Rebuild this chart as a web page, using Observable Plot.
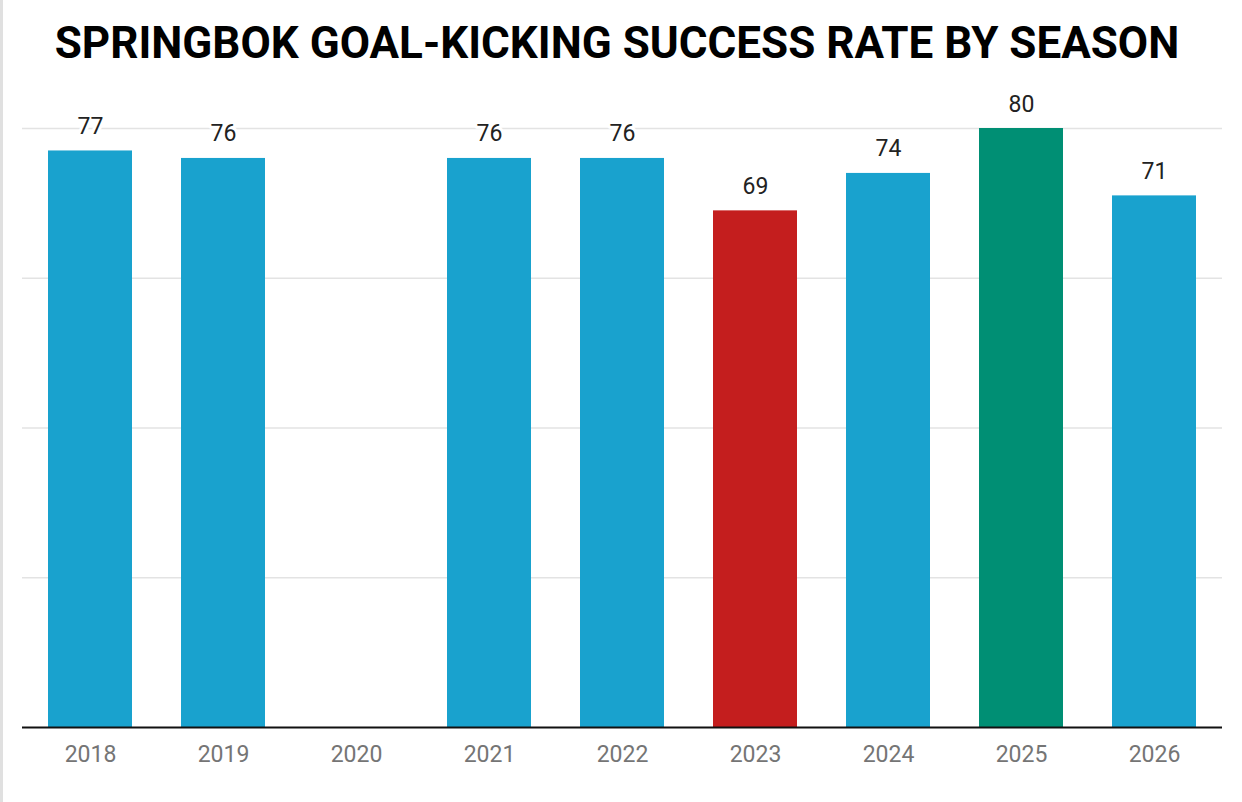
<!DOCTYPE html>
<html>
<head>
<meta charset="utf-8">
<script src="https://cdn.jsdelivr.net/npm/d3@7"></script>
<script src="https://cdn.jsdelivr.net/npm/@observablehq/plot@0.6"></script>
<style>
html, body { margin: 0; padding: 0; background: #fff; }
body { font-family: Roboto, sans-serif; }
#edge { position: fixed; left: 0; top: 0; width: 3px; height: 100%; background: #e0e0e0; z-index: 10; }
#title { height: 80px; box-sizing: border-box; padding-top: 18px; text-align: center; font: 700 44px Roboto, sans-serif; color: #000; letter-spacing: 0px; line-height: 50px; padding-right: 8px; }
#chart svg { display: block; }
</style>
</head>
<body>
<div id="edge"></div>
<div id="title">SPRINGBOK GOAL-KICKING SUCCESS RATE BY SEASON</div>
<div id="chart"></div>
<script>
const seasons = ["2018", "2019", "2020", "2021", "2022", "2023", "2024", "2025", "2026"];
const rates = [77, 76, null, 76, 76, 69, 74, 80, 71];
const barColors = ["#19a2ce", "#19a2ce", "#19a2ce", "#19a2ce", "#19a2ce", "#c41e1e", "#19a2ce", "#008f74", "#19a2ce"];
const gridValues = [20, 40, 60, 80];

const data = seasons.map((s, i) => ({season: s, rate: rates[i], color: barColors[i]}));
const withValues = data.filter(d => d.rate != null);

const chart = Plot.plot({
  width: 1242,
  height: 722,
  marginTop: 48,
  marginBottom: 75,
  marginLeft: 22,
  marginRight: 20,
  style: {fontFamily: "Roboto, sans-serif", background: "#fff"},
  x: {domain: seasons, paddingInner: 0.369, paddingOuter: 0.195, label: null},
  y: {domain: [0, 80], axis: null},
  marks: [
    Plot.ruleY(gridValues, {stroke: "#e3e3e3", strokeWidth: 1.5}),
    Plot.barY(withValues, {x: "season", y: "rate", fill: "color"}),
    Plot.ruleY([0], {stroke: "#111", strokeWidth: 2}),
    Plot.text(withValues, {x: "season", y: "rate", text: d => String(d.rate), lineAnchor: "bottom", dy: -17, fontSize: 23, fill: "#222", stroke: "#fff", strokeWidth: 6, paintOrder: "stroke"}),
    Plot.axisX({tickSize: 0, tickPadding: 18, fontSize: 23, color: "#757575", label: null})
  ]
});
document.getElementById("chart").appendChild(chart);
</script>
</body>
</html>
